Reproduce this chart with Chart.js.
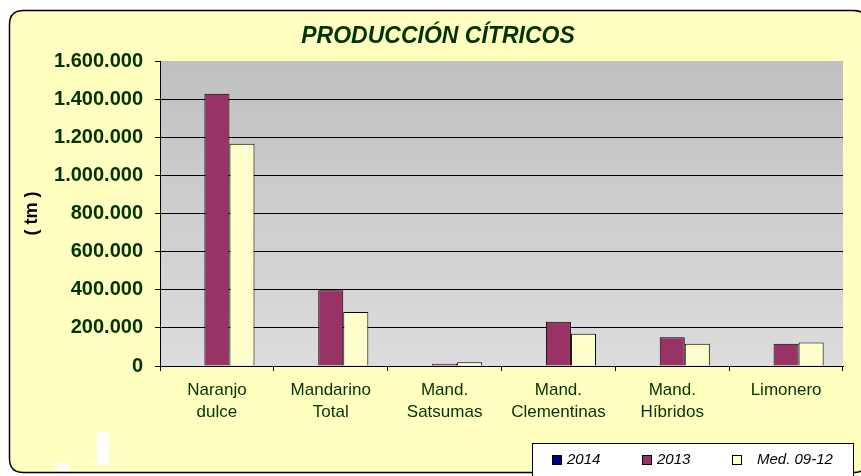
<!DOCTYPE html>
<html>
<head>
<meta charset="utf-8">
<title>Producción cítricos</title>
<script src="https://cdn.jsdelivr.net/npm/chart.js@4.4.1/dist/chart.umd.min.js"></script>
<style>
  html, body { margin: 0; padding: 0; background: #fff; }
  #chart { display: block; }
</style>
</head>
<body>
<canvas id="chart" width="861" height="476"></canvas>
<script>
// datos (tm)
var categorias = [['Naranjo', 'dulce'], ['Mandarino', 'Total'], ['Mand.', 'Satsumas'],
                  ['Mand.', 'Clementinas'], ['Mand.', 'Híbridos'], ['Limonero']];
var serie2014 = [null, null, null, null, null, null];
var serie2013 = [1428000, 397000, 12000, 232000, 151000, 117000];
var serieMedia = [1166000, 283000, 20000, 169000, 117000, 123000];
var etiquetasSerie = ['2014', '2013', 'Med. 09-12'];
var ticksY = [0, 200000, 400000, 600000, 800000, 1000000, 1200000, 1400000, 1600000];

var FUENTE = 'Liberation Sans, Arial, sans-serif';
var VERDE = '#003300';

function miles(v) {
    return String(v).replace(/\B(?=(\d{3})+(?!\d))/g, '.');
}

function roundRect(ctx, x, y, w, h, r) {
    ctx.beginPath();
    ctx.moveTo(x + r, y);
    ctx.lineTo(x + w - r, y);
    ctx.quadraticCurveTo(x + w, y, x + w, y + r);
    ctx.lineTo(x + w, y + h - r);
    ctx.quadraticCurveTo(x + w, y + h, x + w - r, y + h);
    ctx.lineTo(x + r, y + h);
    ctx.quadraticCurveTo(x, y + h, x, y + h - r);
    ctx.lineTo(x, y + r);
    ctx.quadraticCurveTo(x, y, x + r, y);
    ctx.closePath();
}

// panel amarillo + fondo gris del area de trazado + titulo
var fondo = {
    id: 'fondo',
    beforeDraw: function(chart) {
        var ctx = chart.ctx, a = chart.chartArea;
        ctx.save();
        ctx.fillStyle = '#fff';
        ctx.fillRect(0, 0, chart.width, chart.height);
        roundRect(ctx, 9.5, 10.5, 858, 462, 14);
        ctx.fillStyle = '#FFFFC0';
        ctx.fill();
        ctx.lineWidth = 1.5;
        ctx.strokeStyle = '#000';
        ctx.stroke();

        // manchas blancas de la imagen original
        ctx.fillStyle = '#fff';
        ctx.fillRect(97, 432, 12, 33);
        ctx.fillRect(90, 463, 10, 2);
        ctx.fillRect(57, 463, 13, 8);

        var g = ctx.createLinearGradient(0, a.top, 0, a.bottom);
        g.addColorStop(0, '#C0C0C0');
        g.addColorStop(1, '#DCDCDC');
        ctx.fillStyle = g;
        ctx.fillRect(a.left, a.top, a.right - a.left, a.bottom - a.top);

        ctx.fillStyle = VERDE;
        ctx.font = 'italic bold 23px ' + FUENTE;
        ctx.textAlign = 'center';
        ctx.textBaseline = 'middle';
        ctx.fillText('PRODUCCIÓN CÍTRICOS', 438, 37);
        ctx.restore();
    }
};

// leyenda en caja blanca abajo a la derecha
var leyenda = {
    id: 'leyenda',
    afterDraw: function(chart) {
        var ctx = chart.ctx;
        var cuadX = [552, 642, 732];
        var textoX = [567, 657, 757];
        var yc = 460;
        ctx.save();
        ctx.fillStyle = '#fff';
        ctx.fillRect(532.5, 443.5, 321, 40);
        ctx.strokeStyle = '#000';
        ctx.lineWidth = 1;
        ctx.strokeRect(532.5, 443.5, 321, 40);
        ctx.font = 'italic 15px ' + FUENTE;
        ctx.textBaseline = 'middle';
        ctx.textAlign = 'left';
        chart.data.datasets.forEach(function(ds, i) {
            ctx.fillStyle = ds.backgroundColor;
            ctx.fillRect(cuadX[i] + 0.5, yc - 4.5, 9, 9);
            ctx.strokeStyle = '#000';
            ctx.strokeRect(cuadX[i] + 0.5, yc - 4.5, 9, 9);
            ctx.fillStyle = '#000';
            ctx.fillText(ds.label, textoX[i], yc);
        });
        ctx.restore();
    }
};

var chartData = {
    type: 'bar',
    data: {
        labels: categorias,
        datasets: [
            { label: etiquetasSerie[0], data: serie2014, backgroundColor: '#000080', borderColor: '#000', borderWidth: 1 },
            { label: etiquetasSerie[1], data: serie2013, backgroundColor: '#993366', borderColor: '#000', borderWidth: 1 },
            { label: etiquetasSerie[2], data: serieMedia, backgroundColor: '#FFFFCC', borderColor: '#000', borderWidth: 1 }
        ]
    },
    options: {
        responsive: false,
        animation: false,
        devicePixelRatio: 1,
        layout: { padding: { top: 61, right: 18, bottom: 0, left: 0 } },
        datasets: { bar: { barPercentage: 1, categoryPercentage: 0.66 } },
        plugins: {
            legend: { display: false },
            title: { display: false },
            tooltip: { enabled: false }
        },
        scales: {
            x: {
                afterFit: function(s) { s.height = 110; },
                grid: { display: true, drawOnChartArea: false, drawTicks: true, tickLength: 5, color: '#000', offset: true },
                border: { color: '#000', width: 1 },
                ticks: {
                    color: VERDE,
                    padding: 8,
                    maxRotation: 0,
                    autoSkip: false,
                    font: { family: FUENTE, size: 17, lineHeight: 22 / 17 }
                }
            },
            y: {
                min: ticksY[0],
                max: ticksY[ticksY.length - 1],
                afterFit: function(s) { s.width = 160; },
                afterBuildTicks: function(s) { s.ticks = ticksY.map(function(v) { return { value: v }; }); },
                grid: {
                    color: function(c) { return c.tick && c.tick.value === ticksY[ticksY.length - 1] ? 'rgba(0,0,0,0)' : '#000'; },
                    tickColor: '#000',
                    tickLength: 5,
                    lineWidth: 1
                },
                border: { color: '#000', width: 1 },
                ticks: {
                    color: VERDE,
                    padding: 12,
                    font: { family: FUENTE, size: 20, weight: 'bold' },
                    callback: function(v) { return miles(v); }
                },
                title: {
                    display: true,
                    text: '( tm )',
                    color: '#000',
                    padding: { top: 21, bottom: 0 },
                    font: { family: FUENTE, size: 18, weight: 'bold', lineHeight: 1.2 }
                }
            }
        }
    },
    plugins: [fondo, leyenda]
};

var ctx = document.getElementById('chart');
var chart = new Chart(ctx, chartData);
</script>
</body>
</html>
